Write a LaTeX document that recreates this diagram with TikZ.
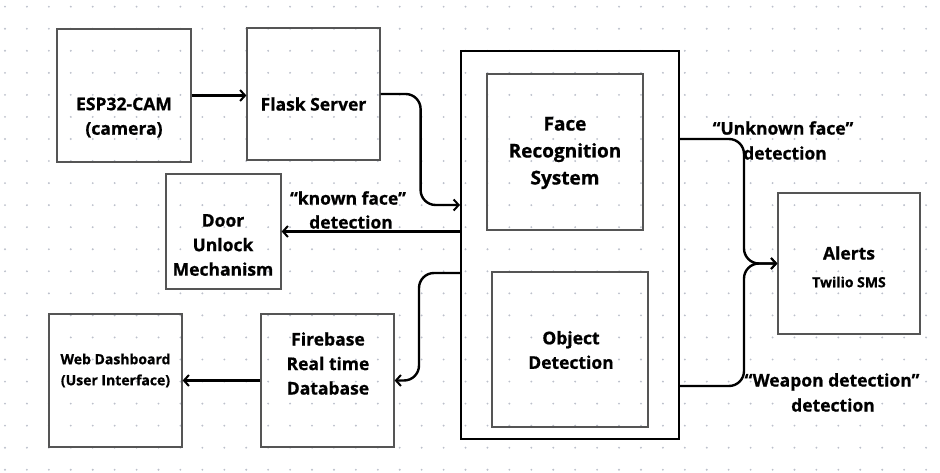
\documentclass[tikz,border=0pt]{standalone}
\usepackage{fontspec}
\setmainfont{Open Sans}[BoldFeatures={FakeBold=0.8}]
\usetikzlibrary{arrows.meta, positioning, calc}
\definecolor{dotgrey}{HTML}{BCC0CB}
\definecolor{boxgrey}{HTML}{555555}
\tikzset{
    block/.style={draw=boxgrey, line width=1.2pt, inner sep=0pt},
    core/.style={draw=black, line width=2pt, inner sep=0pt},
    txt/.style={font=\bfseries\fontsize{17.5}{24.5}\selectfont, align=center, inner sep=0pt},
    small/.style={font=\bfseries\fontsize{14}{21}\selectfont, align=center, inner sep=0pt},
    flow/.style={line width=2.4pt, rounded corners=15pt,
        -{Straight Barb[length=5pt, width=11pt, line width=2pt]}},
}

\begin{document}
\begin{tikzpicture}[x=1pt, y=-1pt]
    \useasboundingbox (0,0) rectangle (940,473);

    % dotted background
    \foreach \i in {0,...,42} {
        \foreach \j in {0,...,21} {
            \fill[dotgrey] (5+21.93*\i, 6.7+22.05*\j) circle (1.05pt);
        }
    }

    % boxes
    \node[block, minimum width=134pt, minimum height=133pt] (cam) at (124,95.5) {};
    \node[block, minimum width=133pt, minimum height=132pt] (flask) at (313.5,94) {};
    \node[block, minimum width=115pt, minimum height=115pt] (door) at (223.5,231.5) {};
    \node[block, minimum width=133pt, minimum height=133pt] (web) at (115.5,380.5) {};
    \node[block, minimum width=133pt, minimum height=133pt] (fire) at (327.5,380.5) {};
    \node[core, minimum width=218pt, minimum height=388pt] (sys) at (570,245) {};
    \node[block, minimum width=156pt, minimum height=156pt] (face) at (565,152) {};
    \node[block, minimum width=156pt, minimum height=155pt] (obj) at (570,349.5) {};
    \node[block, minimum width=142pt, minimum height=141pt] (alert) at (849,263.5) {};

    % texts
    \node[txt] (camtxt) at (124,117.5) {ESP32-CAM\\(camera)};
    \node[txt] (flasktxt) at (313.5,104) {Flask Server};
    \node[txt] (doortxt) at (223,245) {Door\\Unlock\\Mechanism};
    \node[small] (webtxt) at (115.5,370.5) {Web Dashboard\\(User Interface)};
    \node[txt] (firetxt) at (328,363.5) {Firebase\\Real time\\Database};
    \node[txt, font=\bfseries\fontsize{19}{27}\selectfont] (facetxt) at (565,153) {Face\\Recognition\\System};
    \node[txt] (objtxt) at (571,350) {Object\\Detection};
    \node[txt] (alerttxt) at (849,253) {Alerts};
    \node[small] (twilio) at (849,282) {Twilio SMS};

    % labels
    \node[txt] (known) at (348,198) {“known face”};
    \node[txt] (known2) at (351,222) {detection};
    \node[txt] (unknown) at (783,128) {“Unknown face”};
    \node[txt] (unknown2) at (785,153) {detection};
    \node[txt] (weapon) at (832,382) {“Weapon detection”};
    \node[txt] (weapon2) at (833,405) {detection};

    % connectors
    \draw[flow] (cam.east) -- (cam.east -| flask.west);
    \draw[flow] (flask.east) -- ++(40,0) |- ([yshift=40pt]sys.west);
    \draw[flow] (sys.west |- door.east) -- (door.east);
    \draw[flow] ([yshift=-28pt]sys.west) -- ++(-41,0) |- (fire.east);
    \draw[flow] (fire.west) -- (web.east);
    \draw[flow] ([yshift=106pt]sys.east) -- ++(64,0) |- (alert.west);
    \draw[flow] ([yshift=-141pt]sys.east) -- ++(64,0) |- (alert.west);
\end{tikzpicture}
\end{document}
